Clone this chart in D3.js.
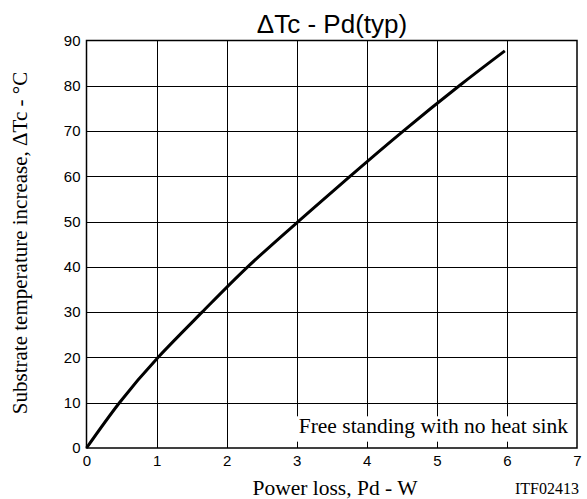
<!DOCTYPE html>
<html>
<head>
<meta charset="utf-8">
<script src="https://cdn.jsdelivr.net/npm/d3@7"></script>
<style>
  html, body { margin: 0; padding: 0; background: #fff; }
  svg { display: block; }
</style>
</head>
<body>
<div id="chart"></div>
<script>
// ΔTc vs. Pd, typical substrate temperature rise
const powerW = [0, 0.47, 1.02, 1.65, 2.3, 3.02, 3.76, 4.52, 5.32, 5.97];
const deltaTc = [0, 10, 20, 30, 40, 50, 60, 70, 80, 87.7];
const xTicks = [0, 1, 2, 3, 4, 5, 6, 7];
const yTicks = [0, 10, 20, 30, 40, 50, 60, 70, 80, 90];

const W = 587, H = 499;
const plotLeft = 86.5, plotRight = 577, plotTop = 40.5, plotBottom = 448;

const svg = d3.select("#chart").append("svg")
  .attr("width", W).attr("height", H);

const x = d3.scaleLinear().domain([0, 7]).range([plotLeft, plotRight]);
const y = d3.scaleLinear().domain([0, 90]).range([plotBottom, plotTop]);

const sans = "'Liberation Sans', Arial, sans-serif";
const serif = "'Liberation Serif', 'Times New Roman', serif";

// grid
const grid = svg.append("g").attr("stroke", "#000").attr("stroke-width", 1).attr("shape-rendering", "crispEdges");
grid.selectAll("line.v").data(xTicks.slice(1, -1)).join("line")
  .attr("x1", d => Math.round(x(d)) + 0.5).attr("x2", d => Math.round(x(d)) + 0.5)
  .attr("y1", plotTop).attr("y2", plotBottom);
grid.selectAll("line.h").data(yTicks.slice(1, -1)).join("line")
  .attr("y1", d => Math.round(y(d)) + 0.5).attr("y2", d => Math.round(y(d)) + 0.5)
  .attr("x1", plotLeft).attr("x2", plotRight);

// note box over the grid
svg.append("rect")
  .attr("x", x(2.93)).attr("y", y(7)).attr("width", x(6.98) - x(2.93)).attr("height", y(1.4) - y(7))
  .attr("fill", "#fff");
svg.append("text")
  .attr("x", 568).attr("y", 433)
  .attr("text-anchor", "end")
  .attr("font-family", serif).attr("font-size", 21.5)
  .text("Free standing with no heat sink");

// frame
svg.append("rect")
  .attr("x", plotLeft).attr("y", plotTop).attr("width", plotRight - plotLeft).attr("height", plotBottom - plotTop)
  .attr("fill", "none").attr("stroke", "#000").attr("stroke-width", 1.5);

// tick labels via d3 axes (no domain/ticks drawn)
const xAxis = svg.append("g").attr("transform", `translate(0,${plotBottom})`)
  .call(d3.axisBottom(x).tickValues(xTicks).tickSize(0).tickPadding(7).tickFormat(d3.format("d")));
const yAxis = svg.append("g").attr("transform", `translate(${plotLeft},0)`)
  .call(d3.axisLeft(y).tickValues(yTicks).tickSize(0).tickPadding(6).tickFormat(d3.format("d")));
[xAxis, yAxis].forEach(g => {
  g.select(".domain").remove();
  g.selectAll("text").attr("font-family", sans).attr("font-size", 15).attr("fill", "#000");
});

// curve
const line = d3.line().x((d, i) => x(powerW[i])).y(d => y(d)).curve(d3.curveNatural);
svg.append("path")
  .attr("d", line(deltaTc))
  .attr("fill", "none").attr("stroke", "#000").attr("stroke-width", 3);

// title
svg.append("text")
  .attr("x", 332).attr("y", 33)
  .attr("text-anchor", "middle")
  .attr("font-family", sans).attr("font-size", 26)
  .text("ΔTc - Pd(typ)");

// axis titles
svg.append("text")
  .attr("x", 335).attr("y", 495)
  .attr("text-anchor", "middle")
  .attr("font-family", serif).attr("font-size", 21.5)
  .text("Power loss, Pd - W");
svg.append("text")
  .attr("x", 579).attr("y", 494)
  .attr("text-anchor", "end")
  .attr("font-family", serif).attr("font-size", 16)
  .text("ITF02413");
svg.append("text")
  .attr("transform", "translate(27,243) rotate(-90)")
  .attr("text-anchor", "middle")
  .attr("font-family", serif).attr("font-size", 21)
  .text("Substrate temperature increase, ΔTc - °C");
</script>
</body>
</html>
